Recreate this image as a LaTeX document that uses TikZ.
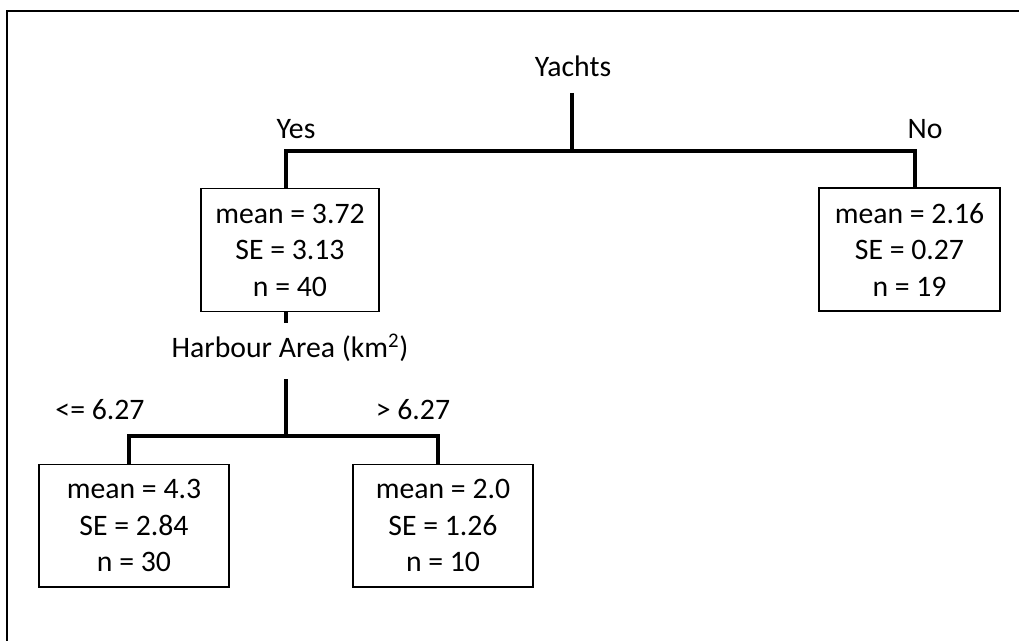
\documentclass[tikz,border=0pt]{standalone}
\usepackage{fontspec}
\setmainfont{Carlito}

\tikzset{every picture/.style={line width=0.75pt}}
\tikzset{
  branch/.style={line width=2.6pt},
  frame/.style={line width=1.5pt},
  leaf/.style={draw, line width=1pt, align=center, inner sep=0pt, minimum height=92pt, font=\fontsize{22.3}{27.4}\selectfont},
  lbl/.style={inner sep=0.75pt, font=\fontsize{22.3}{26}\selectfont}
}

\begin{document}
\begin{tikzpicture}[x=0.75pt,y=0.75pt,yscale=-1,xscale=1]
				\useasboundingbox (0,0) rectangle (1019,641);
				%Frame
				\draw [frame] (1019,11) -| (7,641) ;

				% Text Node
				\node [lbl] (yachts) at (573,66) {Yachts};
				% Text Node
				\node [lbl] (yes) at (296,129) {Yes};
				% Text Node
				\node [lbl] (no) at (925,129) {No};
				% Text Node
				\node [lbl] (harbour) at (290,348) {Harbour Area (km\textsuperscript{2})};
				% Text Node
				\node [lbl] (lowcut) at (100,410) {<= 6.27};
				% Text Node
				\node [lbl] (highcut) at (413,410) {> 6.27};

				%Shape: Rectangle
				\node [leaf, minimum width=133.5pt] (yesbox) at (290,250) {mean = 3.72\\SE = 3.13\\n = 40};
				%Shape: Rectangle
				\node [leaf, minimum width=135.75pt] (nobox) at (909.5,249.5) {mean = 2.16\\SE = 0.27\\n = 19};
				%Shape: Rectangle
				\node [leaf, minimum width=142.5pt] (lowbox) at (134,525.5) {mean = 4.3\\SE = 2.84\\n = 30};
				%Shape: Rectangle
				\node [leaf, minimum width=135pt] (highbox) at (443,525.5) {mean = 2.0\\SE = 1.26\\n = 10};

				% first split
				\coordinate (stem1) at (572,93);
				\coordinate (left1) at (286,151);
				\coordinate (right1) at (915,151);
				\draw [branch] (stem1) -- (stem1 |- left1) ;
				\draw [branch] (yesbox.north -| left1) -- (left1) -- (right1) -- (right1 |- nobox.north) ;

				% second split
				\draw [branch] (yesbox.south -| left1) -- ++(0,11) ;
				\coordinate (stem2) at (286,379);
				\coordinate (left2) at (129,436);
				\coordinate (right2) at (438,436);
				\draw [branch] (stem2) -- (stem2 |- left2) ;
				\draw [branch] (lowbox.north -| left2) -- (left2) -- (right2) -- (right2 |- highbox.north) ;
\end{tikzpicture}
\end{document}
